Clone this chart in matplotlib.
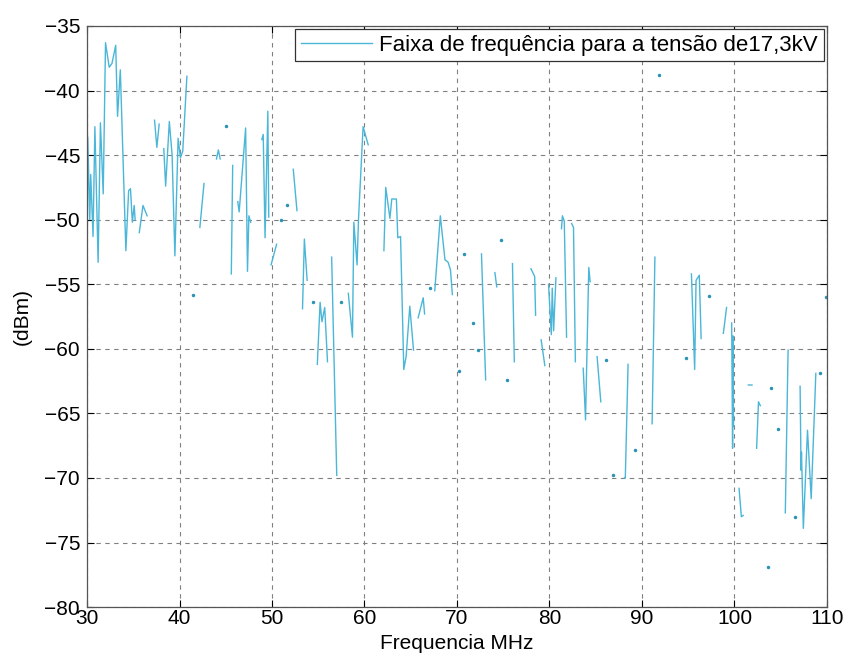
import numpy as np
import matplotlib
matplotlib.use('Agg')
import matplotlib.pyplot as plt

plt.rcParams['font.family'] = ['Liberation Sans', 'DejaVu Sans']

nan = np.nan

# measured spectrum (MHz, dBm), gaps as NaN like the original trace
freq = [30.0, 30.08, 30.3, 30.4, 30.65, 30.85, 31.2, 31.45, 31.75, 32.0, 32.4, 32.7, 33.1, 33.3, 33.6,
        34.2, 34.5, 34.7, 34.9, 35.1, 35.2, nan,
        35.65, 36.05, 36.5, nan,
        37.3, 37.55, 37.8, nan,
        38.3, 38.5, 38.9, 39.2, 39.5, 39.85, 40.1, 40.35, 40.8, nan,
        42.2, 42.65, nan,
        44.0, 44.2, 44.4, nan,
        45.75, 45.6, nan,
        46.3, 46.45, 47.15, 47.35, 47.5, 47.7, nan,
        48.9, 49.05, 49.25, 49.55, 49.65, nan,
        49.9, 50.5, nan,
        52.3, 52.7, nan,
        53.3, 53.5, 53.8, nan,
        54.9, 55.2, 55.4, 55.7, 56.0, nan,
        56.45, 57.0, nan,
        58.25, 58.7, 58.85, 59.2, 59.35, 59.85, 60.4, nan,
        62.1, 62.3, 62.75, 62.95, 63.45, 63.6, 63.9, 64.25, 64.5, 64.9, 65.3, nan,
        65.8, 66.35, 66.5, nan,
        67.6, 68.2, 68.7, 69.05, 69.3, 69.5, nan,
        72.65, 73.1, nan,
        74.1, 74.3, nan,
        76.0, 76.2, nan,
        78.0, 78.4, 78.5, nan,
        79.1, 79.5, nan,
        79.9, 80.2, 80.3, 80.45, 80.7, nan,
        81.3, 81.4, 81.6, 81.85, nan,
        82.4, 82.6, 82.8, nan,
        83.65, 83.9, 84.25, 84.4, nan,
        85.15, 85.55, nan,
        88.1, 88.2, 88.5, nan,
        91.1, 91.4, nan,
        95.35, 95.7, 95.85, 96.2, 96.4, nan,
        98.8, 99.15, nan,
        99.7, 99.8, 99.85, 99.9, nan,
        100.5, 100.75, 100.95, nan,
        101.5, 101.9, nan,
        102.4, 102.6, 102.8, nan,
        105.5, 105.8, nan,
        107.1, 107.2, 107.25, 107.45, 107.9, 108.3, 108.8]

dbm = [-55.0, -43.6, -50.0, -46.5, -51.3, -42.8, -53.3, -42.5, -48.0, -36.3, -38.2, -37.9, -36.5, -42.0, -38.4,
       -52.4, -47.75, -47.6, -50.2, -48.9, -50.0, nan,
       -51.0, -48.9, -49.7, nan,
       -42.3, -44.4, -42.6, nan,
       -44.5, -47.4, -42.4, -45.0, -52.8, -43.7, -45.2, -44.7, -38.9, nan,
       -50.6, -47.2, nan,
       -45.3, -44.6, -45.3, nan,
       -45.8, -54.2, nan,
       -48.6, -49.4, -42.9, -54.0, -49.7, -50.2, nan,
       -43.8, -43.4, -51.4, -41.6, -49.8, nan,
       -53.5, -51.9, nan,
       -46.1, -49.3, nan,
       -56.9, -51.5, -54.7, nan,
       -61.2, -56.4, -57.9, -56.8, -61.0, nan,
       -52.9, -69.8, nan,
       -55.7, -59.1, -50.2, -53.5, -50.0, -42.8, -44.2, nan,
       -52.4, -47.5, -49.9, -48.4, -48.4, -51.4, -51.3, -61.6, -60.6, -56.7, -60.1, nan,
       -57.6, -56.05, -57.3, nan,
       -55.5, -49.7, -53.1, -53.3, -53.9, -55.8, nan,
       -52.65, -62.4, nan,
       -54.1, -55.2, nan,
       -53.4, -61.0, nan,
       -53.8, -54.4, -57.4, nan,
       -59.3, -61.3, nan,
       -55.0, -58.9, -55.3, -58.6, -54.5, nan,
       -50.7, -49.7, -50.1, -59.1, nan,
       -50.3, -50.6, -61.0, nan,
       -61.5, -65.5, -53.7, -54.8, nan,
       -60.6, -64.1, nan,
       -70.0, -70.0, -61.2, nan,
       -65.8, -52.9, nan,
       -54.2, -61.6, -54.7, -54.3, -59.2, nan,
       -58.8, -56.8, nan,
       -58.0, -67.7, -59.0, -66.0, nan,
       -70.8, -73.0, -72.9, nan,
       -62.8, -62.8, nan,
       -67.7, -64.1, -64.4, nan,
       -72.7, -60.1, nan,
       -62.9, -69.4, -68.0, -73.9, -66.3, -71.6, -61.9]

# isolated samples (single points between gaps)
dot_freq = [41.5, 45.0, 51.0, 51.65, 54.4, 57.5, 67.1, 70.25, 70.75, 71.7, 72.3, 74.8, 75.4,
            86.1, 86.9, 89.3, 91.8, 94.75, 97.3, 103.6, 104.0, 104.7, 106.5, 109.3, 109.9]
dot_dbm = [-55.8, -42.75, -50.0, -48.85, -56.4, -56.4, -55.3, -61.7, -52.65, -58.0, -60.1, -51.6, -62.45,
           -60.9, -69.8, -67.8, -38.8, -60.7, -55.9, -76.9, -63.05, -66.2, -73.0, -61.9, -56.0]

xticks = list(range(30, 111, 10))
yticks = list(range(-80, -34, 5))

line_color = '#4ab6d8'
dot_color = '#2a93b4'

fig = plt.figure(figsize=(8.49, 6.65), dpi=100)
ax = fig.add_axes([0.1025, 0.087, 0.8715, 0.874])

ax.plot(freq, dbm, color=line_color, lw=1.0, label='Faixa de frequência para a tensão de17,3kV')
ax.plot(dot_freq, dot_dbm, ls='none', marker='o', ms=2.5, color=dot_color, mec='none')

ax.set_xlim(30, 110)
ax.set_ylim(-80, -35)
ax.set_xticks(xticks)
ax.set_yticks(yticks)
ax.grid(True, color='#808080', ls=(0, (4, 4)), lw=0.8)
ax.tick_params(direction='in', top=True, right=True, labelsize=15, length=5)
ax.tick_params(axis='x', pad=1)
ax.tick_params(axis='y', pad=5)
for s in ax.spines.values():
    s.set_color('#555555')
    s.set_linewidth(0.9)

ax.set_xlabel('Frequencia MHz', fontsize=15, labelpad=5)
ax.set_ylabel('(dBm)', fontsize=15, labelpad=9)

leg = ax.legend(loc='upper right', fontsize=16, handlelength=3.2, handletextpad=0.35,
                fancybox=False, framealpha=1, edgecolor='#333333',
                borderaxespad=0.15, borderpad=0.25)
leg.get_frame().set_linewidth(0.9)

fig.savefig('out.png', dpi=100)
